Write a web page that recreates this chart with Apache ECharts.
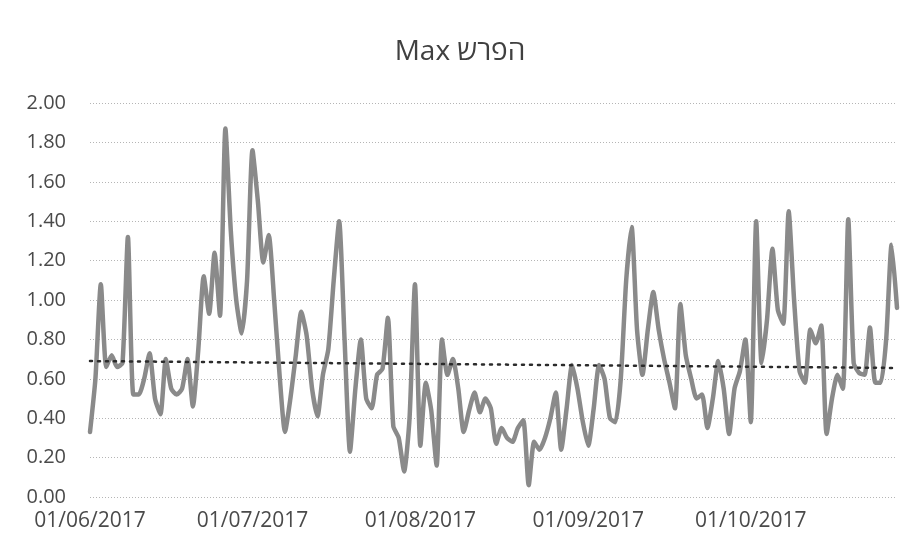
<!DOCTYPE html>
<html>
<head>
<meta charset="utf-8">
<script src="https://cdn.jsdelivr.net/npm/echarts@6/dist/echarts.min.js"></script>
<style>html,body{margin:0;padding:0;background:#fff;}#c{width:920px;height:551px;}</style>
</head>
<body>
<div id="c"></div>
<script>
// Chart data
const titleText = 'Max הפרש';
const startDate = [2017, 5, 1]; // 1 June 2017 (month 0-based)
const dayCount = 150;
const values = [
  0.33, 0.60, 1.08, 0.66, 0.72, 0.66, 0.68, 1.32, 0.52, 0.52,
  0.60, 0.73, 0.50, 0.42, 0.70, 0.55, 0.52, 0.55, 0.70, 0.46,
  0.75, 1.12, 0.93, 1.24, 0.92, 1.87, 1.35, 1.00, 0.83, 1.10,
  1.76, 1.50, 1.19, 1.33, 1.00, 0.62, 0.33, 0.50, 0.72, 0.94,
  0.82, 0.55, 0.41, 0.62, 0.75, 1.10, 1.40, 0.80, 0.23, 0.55,
  0.80, 0.50, 0.45, 0.62, 0.65, 0.91, 0.36, 0.30, 0.13, 0.40,
  1.08, 0.26, 0.58, 0.44, 0.16, 0.80, 0.62, 0.70, 0.55, 0.33,
  0.44, 0.53, 0.43, 0.50, 0.45, 0.27, 0.35, 0.30, 0.28, 0.35,
  0.39, 0.06, 0.28, 0.24, 0.30, 0.40, 0.53, 0.24, 0.45, 0.67,
  0.55, 0.38, 0.26, 0.45, 0.67, 0.60, 0.40, 0.38, 0.60, 1.10,
  1.37, 0.85, 0.62, 0.85, 1.04, 0.85, 0.70, 0.58, 0.45, 0.98,
  0.72, 0.60, 0.50, 0.52, 0.35, 0.50, 0.69, 0.55, 0.32, 0.55,
  0.64, 0.80, 0.38, 1.40, 0.68, 0.90, 1.26, 0.95, 0.88, 1.45,
  1.00, 0.64, 0.58, 0.85, 0.78, 0.87, 0.32, 0.50, 0.62, 0.55,
  1.41, 0.68, 0.63, 0.62, 0.86, 0.58, 0.58, 0.80, 1.28, 0.96
];
const trendStart = 0.69;
const trendEnd = 0.655;
const yTicks = [0, 0.2, 0.4, 0.6, 0.8, 1.0, 1.2, 1.4, 1.6, 1.8, 2.0];

// Build categories (dd/mm/yyyy)
function pad(n){ return (n < 10 ? '0' : '') + n; }
const categories = [];
for (let i = 0; i < dayCount; i++) {
  const d = new Date(startDate[0], startDate[1], startDate[2] + i);
  categories.push(pad(d.getDate()) + '/' + pad(d.getMonth() + 1) + '/' + d.getFullYear());
}
const trendData = categories.map((c, i) => i === 0 ? trendStart : (i === categories.length - 1 ? trendEnd : null));

const chart = echarts.init(document.getElementById('c'), null, {renderer: 'canvas'});
const font = '"Open Sans", "Noto Sans", sans-serif';
chart.setOption({
  backgroundColor: '#ffffff',
  animation: false,
  title: {
    text: titleText,
    left: 'center',
    top: 33,
    textStyle: {fontFamily: font, fontSize: 28, fontWeight: 'normal', color: '#404040'}
  },
  grid: {left: 90, right: 23, top: 103, bottom: 54, containLabel: false},
  xAxis: {
    type: 'category',
    data: categories,
    boundaryGap: false,
    axisLine: {show: false},
    axisTick: {show: false},
    axisLabel: {
      interval: (idx, val) => val.slice(0, 2) === '01',
      fontFamily: font, fontSize: 21, color: '#4a4a4a', margin: 14
    },
    splitLine: {show: false}
  },
  yAxis: {
    type: 'value',
    min: yTicks[0],
    max: yTicks[yTicks.length - 1],
    interval: 0.2,
    axisLine: {show: false},
    axisTick: {show: false},
    axisLabel: {
      formatter: v => v.toFixed(2),
      fontFamily: font, fontSize: 20, color: '#4a4a4a', margin: 24
    },
    splitLine: {show: true, lineStyle: {color: '#b5b5b5', width: 1, type: [1, 2]}}
  },
  series: [
    {
      type: 'line',
      data: values,
      symbol: 'none',
      smooth: 0.2,
      lineStyle: {color: '#8a8a8a', width: 4.5, join: 'round', cap: 'round'},
      z: 3
    },
    {
      type: 'line',
      data: trendData,
      connectNulls: true,
      symbol: 'none',
      lineStyle: {color: '#2b2b2b', width: 2.5, type: [2, 6], cap: 'round'},
      z: 4
    }
  ]
});
</script>
</body>
</html>
